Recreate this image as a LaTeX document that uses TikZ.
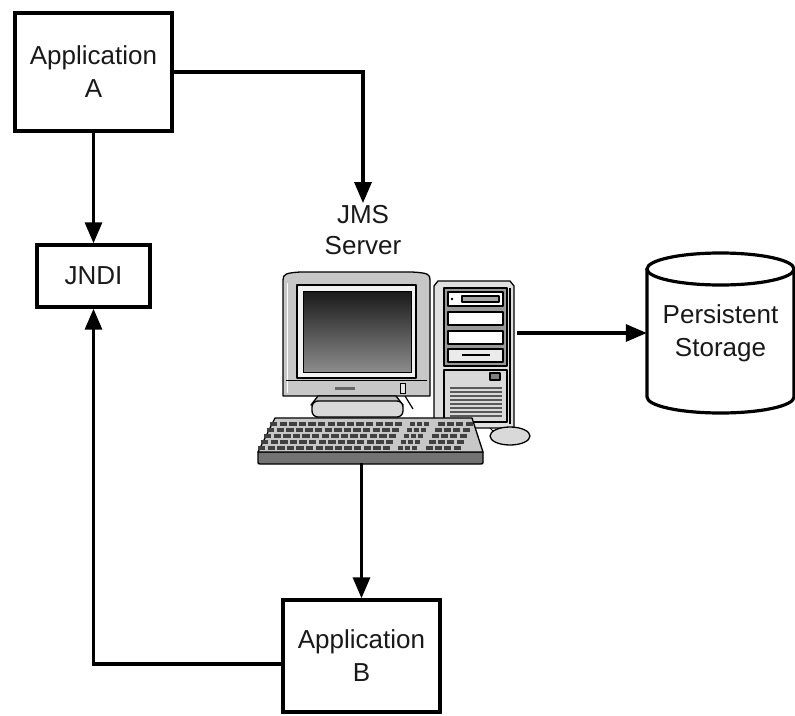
\documentclass[tikz,border=0pt]{standalone}
\usepackage{fontspec}
\setmainfont{Liberation Sans}
\usetikzlibrary{arrows.meta}

\begin{document}
\begin{tikzpicture}[x=1pt,y=-1pt,
  box/.style={draw, line width=3.4pt, font=\fontsize{26}{33}\selectfont,
              align=center, inner sep=0pt, text=black!90},
  conn/.style={line width=3.2pt, -{Triangle[width=17pt,length=21pt]}},
  tag/.style={font=\fontsize{26}{31}\selectfont, align=center, inner sep=2pt, text=black!90},
  part/.style={draw=black, line width=1.3pt, line join=round},
  key/.style={fill=black!75}
]
\useasboundingbox[fill=white] (0,0) rectangle (795,715);

% ---------- boxes ----------
\node[box, minimum width=157, minimum height=118] (appA) at (93.5,72) {Application\\A};
\node[box, minimum width=113, minimum height=62]  (jndi) at (93.5,276) {JNDI};
\node[box, minimum width=157, minimum height=112] (appB) at (361.5,656) {Application\\B};
\node[tag] (jms) at (363,230) {JMS\\Server};

% ---------- server (computer) ----------
\node[minimum width=259, minimum height=191, inner sep=0pt] (server) at (387.5,367.5) {};

% tower
\draw[part, fill=black!12] (434,286) -- (438,281) -- (510,281) -- (514,286) -- (514,428) -- (434,428) -- cycle;
\draw[part, fill=black!40] (444,288) rectangle (507,366);
\draw[part, fill=white] (448,292) rectangle (503,306);
\draw[part, fill=black!35] (462,296) rectangle (499,302);
\fill[black] (452,299) circle (1.3);
\draw[part, fill=white] (448,312) rectangle (503,325);
\draw[part, fill=white] (448,331) rectangle (503,344);
\draw[part, fill=black!8] (448,349) rectangle (503,362);
\draw[line width=2.4pt] (462,355) -- (490,355);
\draw[part, fill=black!15] (444,370) rectangle (507,422);
\draw[part, fill=black!50] (490,373) rectangle (500,380);
\foreach \v in {388,392,...,416} \draw[line width=1.8pt, black!65] (450,\v) -- (502,\v);
\draw[line width=1.2pt] (510,288) -- (510,424);

% monitor
\draw[part, fill=black!22] (283,280) .. controls (283,274) and (286,273) .. (300,272)
   -- (412,272) .. controls (428,273) and (430,274) .. (430,280) -- (430,396) -- (283,396) -- cycle;
\draw[line width=1pt, white] (287,283) -- (287,393);
\draw[part, fill=black!5] (297,285) rectangle (416,378);
\shade[shading=axis, shading angle=135, top color=black!90, bottom color=black!45,
       draw=black, line width=1pt] (303,291) rectangle (411,372);
\draw[line width=0.9pt] (286,380) -- (427,380);
\fill[black!60] (335,387) rectangle (355,390);
\draw[line width=0.8pt, fill=black!10] (400,383) rectangle (405,393);

% stand
\draw[part, fill=black!25] (318,396) -- (396,396) -- (403,405) -- (311,405) -- cycle;
\draw[part, fill=black!15, rounded corners=6pt] (312,401) rectangle (403,417);
\draw[line width=1.2pt] (405,396) -- (413,409);

% keyboard
\draw[part, fill=black!55] (258,452) -- (483,452) -- (483,462) .. controls (483,464) .. (480,464)
   -- (261,464) .. controls (258,464) .. (258,462) -- cycle;
\draw[part, fill=black!22] (275,418) -- (472,418) -- (483,452) -- (258,452) -- cycle;
\foreach \r in {0,...,4}{
  \pgfmathsetmacro{\yy}{422+\r*6}
  \pgfmathsetmacro{\xs}{270-\r*3}
  \foreach \k in {0,...,13}{
    \fill[key] ({\xs+\k*9.6},\yy) rectangle +(7.4,4.2);
  }
  \foreach \k in {0,...,2}{
    \fill[key] ({\xs+140+\k*7},\yy) rectangle +(5,4.2);
  }
  \foreach \k in {0,...,3}{
    \fill[key] ({\xs+168+\k*9.2},\yy) rectangle +(7,4.2);
  }
}

% mouse
\draw[line width=0.9pt] (490,428) .. controls (494,432) .. (500,432);
\draw[part, fill=black!15] (510,436) ellipse [x radius=20, y radius=9];

% ---------- persistent storage ----------
\node[minimum width=147, minimum height=160, inner sep=0pt, font=\fontsize{26}{33}\selectfont,
      align=center, text=black!90] (storage) at (720.5,333) {Persistent\\Storage};
\draw[line width=3.2pt, line join=round]
   (647,269) -- (647,397)
   arc[start angle=180, end angle=0, x radius=73.5, y radius=16]
   -- (794,269);
\draw[line width=3.2pt] (720.5,269) ellipse [x radius=73.5, y radius=16];

% ---------- connectors ----------
\draw[conn] (appA.east) -| (jms.north);
\draw[conn] (appA.south) -- (jndi.north);
\draw[conn] (server.east |- storage.west) -- (storage.west);
\draw[conn] (server.south -| appB.north) -- (appB.north);
\draw[conn] ([yshift=-8pt]appB.west) -| (jndi.south);
\end{tikzpicture}
\end{document}
